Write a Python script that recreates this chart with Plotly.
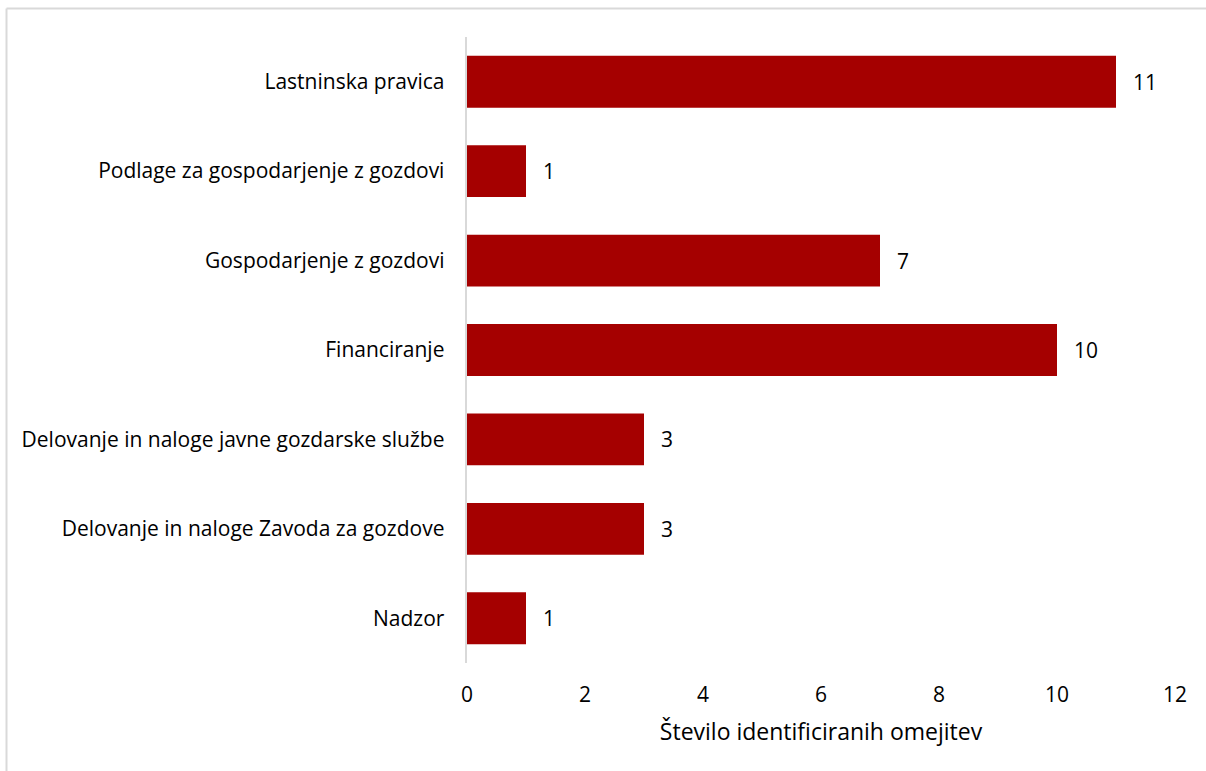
import plotly.graph_objects as go

kategorije = [
    "Lastninska pravica",
    "Podlage za gospodarjenje z gozdovi",
    "Gospodarjenje z gozdovi",
    "Financiranje",
    "Delovanje in naloge javne gozdarske službe",
    "Delovanje in naloge Zavoda za gozdove",
    "Nadzor",
]
vrednosti = [11, 1, 7, 10, 3, 3, 1]
x_ticks = [0, 2, 4, 6, 8, 10, 12]

W, H = 1206, 771
L, R, T, B = 467, 31, 37, 108
pw, ph = W - L - R, H - T - B

fig = go.Figure(go.Bar(
    y=kategorije,
    x=vrednosti,
    orientation="h",
    marker=dict(color="#A50000", line=dict(width=0)),
    text=["\u2002\u2009" + str(v) for v in vrednosti],
    textposition="outside",
    textfont=dict(size=21, color="black"),
    cliponaxis=False,
))

# siva okvirja levo in zgoraj
fig.add_shape(type="line", xref="paper", yref="paper",
              x0=(6.5 - L) / pw, x1=(6.5 - L) / pw,
              y0=(H - B - 771) / ph, y1=(H - B - 8.5) / ph,
              line=dict(color="#d9d9d9", width=2))
fig.add_shape(type="line", xref="paper", yref="paper",
              x0=(6.5 - L) / pw, x1=(1206 - L) / pw,
              y0=(H - B - 8.5) / ph, y1=(H - B - 8.5) / ph,
              line=dict(color="#d9d9d9", width=2))

fig.update_layout(
    width=W, height=H,
    margin=dict(l=L, r=R, t=T, b=B, pad=0),
    paper_bgcolor="white",
    plot_bgcolor="white",
    font=dict(family="Open Sans, Noto Sans, sans-serif", size=21, color="black"),
    bargap=0.42,
    showlegend=False,
    xaxis=dict(
        range=[0, 12],
        tickvals=x_ticks,
        showgrid=False,
        zeroline=False,
        showline=False,
        ticks="",
        ticklen=0,
        ticklabelstandoff=17,
        title=dict(text="Število identificiranih omejitev", font=dict(size=23), standoff=16),
    ),
    yaxis=dict(
        autorange="reversed",
        showgrid=False,
        zeroline=False,
        showline=True,
        linecolor="#d9d9d9",
        linewidth=2,
        ticks="",
        ticksuffix="   ",
    ),
)

fig.write_html("out.html", config={"displayModeBar": False},
               post_script="document.body.style.margin='0';")
